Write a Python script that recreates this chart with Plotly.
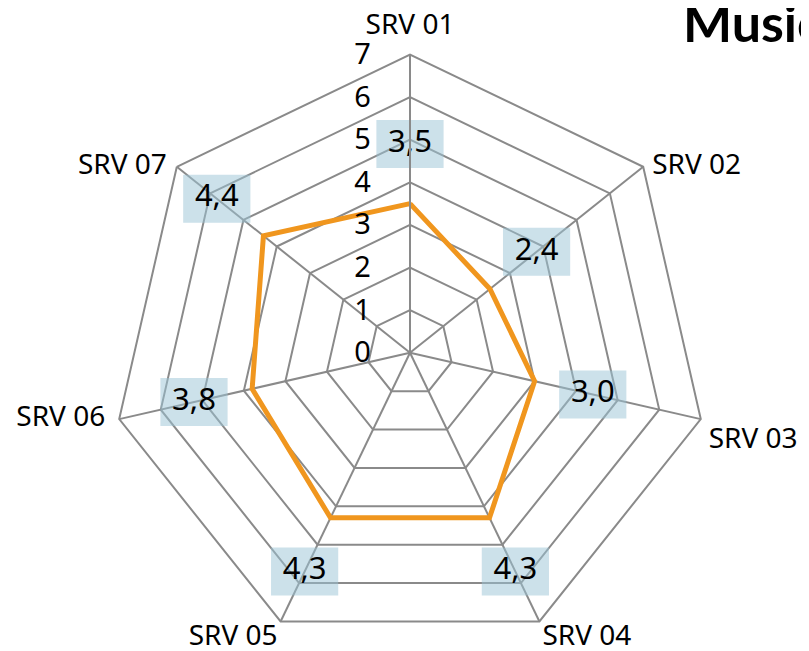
import plotly.graph_objects as go

categories = ["SRV 01", "SRV 02", "SRV 03", "SRV 04", "SRV 05", "SRV 06", "SRV 07"]
values = [3.5, 2.4, 3.0, 4.3, 4.3, 3.8, 4.4]
radial_ticks = [0, 1, 2, 3, 4, 5, 6, 7]
title_text = "Music"

LABEL_OFFSET = 1.4
GRID = "#8a8a8a"
FONT = "Noto Sans"

# category label placement around the outer vertices (style only)
cat_textpos = ["top center", "middle right", "bottom right", "bottom right",
               "bottom left", "middle left", "middle left"]
cat_gap = [20, 12.8, 11, 3.2, 3.2, 20.8, 14.4]

# the page body has an 8px margin, so the figure is drawn 8px in from the top-left
PAGE_MARGIN = 8
W, H = 809 - PAGE_MARGIN, 651 - PAGE_MARGIN
CX, CY, R = 410 - PAGE_MARGIN, 354.5 - PAGE_MARGIN, 300

label_text = [f"{v:.1f}".replace(".", ",") for v in values]
r_max = radial_ticks[-1]

fig = go.Figure()
fig.add_trace(go.Scatterpolar(
    r=values + values[:1],
    theta=categories + categories[:1],
    mode="lines",
    line=dict(color="#F0961E", width=5),
    hoverinfo="skip",
    showlegend=False,
))
fig.add_trace(go.Scatterpolar(
    r=[v + LABEL_OFFSET for v in values],
    theta=categories,
    mode="markers+text",
    text=label_text,
    textposition="middle center",
    textfont=dict(family=FONT, size=31, color="black"),
    marker=dict(symbol="line-ew", size=48, color="rgba(154,196,214,0.5)",
                line=dict(width=48, color="rgba(154,196,214,0.5)")),
    hoverinfo="skip",
    showlegend=False,
    cliponaxis=False,
))
# category names at the outer vertices
fig.add_trace(go.Scatterpolar(
    r=[r_max] * len(categories),
    theta=categories,
    mode="markers+text",
    text=categories,
    textposition=cat_textpos,
    textfont=dict(family=FONT, size=28, color="black"),
    marker=dict(size=cat_gap, opacity=0, color="white"),
    hoverinfo="skip",
    showlegend=False,
    cliponaxis=False,
))

fig.update_layout(
    width=W, height=H, autosize=False,
    margin=dict(l=0, r=0, t=0, b=0),
    paper_bgcolor="white", plot_bgcolor="white",
    font=dict(family=FONT, color="black"),
    polar=dict(
        domain=dict(x=[(CX - R) / W, (CX + R) / W], y=[0, 1 - (CY - R) / H]),
        gridshape="linear",
        bgcolor="white",
        angularaxis=dict(
            type="category",
            categoryarray=categories,
            direction="clockwise",
            rotation=90,
            showline=True, linecolor=GRID, linewidth=2,
            showgrid=True, gridcolor=GRID, gridwidth=2,
            ticks="", showticklabels=False,
        ),
        radialaxis=dict(
            range=[0, r_max],
            tickvals=radial_ticks,
            angle=90,
            tickangle=90,
            side="counterclockwise",
            showline=True, linecolor=GRID, linewidth=2,
            showgrid=True, gridcolor=GRID, gridwidth=2,
            ticks="outside", ticklen=28, tickcolor="rgba(0,0,0,0)",
            tickfont=dict(family=FONT, size=29, color="black"),
        ),
    ),
    annotations=[dict(
        text=f"<b>{title_text}</b>", xref="paper", yref="paper",
        x=(681 - PAGE_MARGIN) / W, y=1 - (22 - PAGE_MARGIN) / H,
        xanchor="left", yanchor="middle",
        showarrow=False, font=dict(family="Lato", size=52, color="black"),
    )],
)

fig.write_html("out.html")
